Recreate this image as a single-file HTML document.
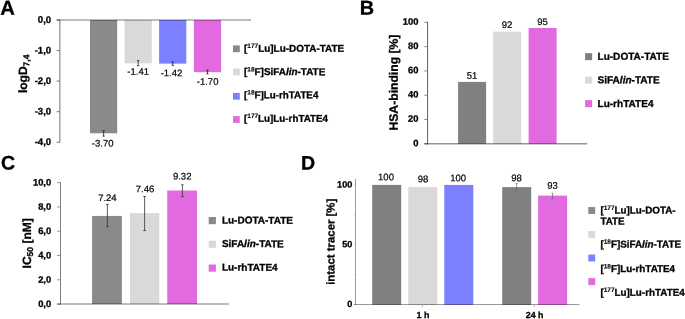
<!DOCTYPE html>
<html lang="en">
<head>
<meta charset="utf-8">
<title>Figure</title>
<style>
html,body{margin:0;padding:0;background:#fff;}
body{width:685px;height:319px;overflow:hidden;}
svg{display:block;text-rendering:geometricPrecision;font-family:"Liberation Sans",Arial,Helvetica,sans-serif;}
</style>
</head>
<body>
<svg width="685" height="319" viewBox="0 0 685 319">
<rect x="0" y="0" width="685" height="319" fill="#ffffff"/>
<text x="0.30" y="14.70" font-size="20.3" font-weight="700" transform="rotate(0.1 0.30 14.70)" fill="#000" stroke="#000" stroke-width="0.3">A</text>
<rect x="90.00" y="20.00" width="27.20" height="113.29" fill="#8a8a8a"/>
<rect x="124.60" y="20.00" width="27.20" height="43.33" fill="#d9d9d9"/>
<rect x="159.10" y="20.00" width="27.20" height="43.63" fill="#7c80ff"/>
<rect x="193.90" y="20.00" width="27.20" height="52.19" fill="#e26ae1"/>
<line x1="56.65" y1="20.00" x2="59.85" y2="20.00" stroke="#808080" stroke-width="1.1"/>
<text x="51.20" y="22.90" font-size="9.6" font-weight="700" text-anchor="end" transform="rotate(0.1 51.20 22.90)" fill="#000" stroke="#000" stroke-width="0.3">0,0</text>
<line x1="56.65" y1="50.55" x2="59.85" y2="50.55" stroke="#808080" stroke-width="1.1"/>
<text x="51.20" y="53.45" font-size="9.6" font-weight="700" text-anchor="end" transform="rotate(0.1 51.20 53.45)" fill="#000" stroke="#000" stroke-width="0.3">-1,0</text>
<line x1="56.65" y1="81.10" x2="59.85" y2="81.10" stroke="#808080" stroke-width="1.1"/>
<text x="51.20" y="84.00" font-size="9.6" font-weight="700" text-anchor="end" transform="rotate(0.1 51.20 84.00)" fill="#000" stroke="#000" stroke-width="0.3">-2,0</text>
<line x1="56.65" y1="111.65" x2="59.85" y2="111.65" stroke="#808080" stroke-width="1.1"/>
<text x="51.20" y="114.55" font-size="9.6" font-weight="700" text-anchor="end" transform="rotate(0.1 51.20 114.55)" fill="#000" stroke="#000" stroke-width="0.3">-3,0</text>
<line x1="56.65" y1="142.20" x2="59.85" y2="142.20" stroke="#808080" stroke-width="1.1"/>
<text x="51.20" y="145.10" font-size="9.6" font-weight="700" text-anchor="end" transform="rotate(0.1 51.20 145.10)" fill="#000" stroke="#000" stroke-width="0.3">-4,0</text>
<line x1="59.85" y1="19.50" x2="59.85" y2="142.70" stroke="#808080" stroke-width="1.1"/>
<line x1="56.65" y1="20.00" x2="251.00" y2="20.00" stroke="#000" stroke-opacity="0.35" stroke-width="1.5"/>
<line x1="103.60" y1="130.70" x2="103.60" y2="136.10" stroke="#222" stroke-width="0.8"/>
<line x1="102.40" y1="130.70" x2="104.80" y2="130.70" stroke="#222" stroke-width="0.8"/>
<line x1="102.40" y1="136.10" x2="104.80" y2="136.10" stroke="#222" stroke-width="0.8"/>
<text x="102.70" y="146.60" font-size="9.5" text-anchor="middle" transform="rotate(0.1 102.70 146.60)" fill="#000" stroke="#000" stroke-width="0.2">-3.70</text>
<line x1="138.20" y1="60.60" x2="138.20" y2="65.70" stroke="#222" stroke-width="0.8"/>
<line x1="137.00" y1="60.60" x2="139.40" y2="60.60" stroke="#222" stroke-width="0.8"/>
<line x1="137.00" y1="65.70" x2="139.40" y2="65.70" stroke="#222" stroke-width="0.8"/>
<text x="138.20" y="74.80" font-size="9.5" text-anchor="middle" transform="rotate(0.1 138.20 74.80)" fill="#000" stroke="#000" stroke-width="0.2">-1.41</text>
<line x1="172.70" y1="61.90" x2="172.70" y2="65.30" stroke="#222" stroke-width="0.8"/>
<line x1="171.50" y1="61.90" x2="173.90" y2="61.90" stroke="#222" stroke-width="0.8"/>
<line x1="171.50" y1="65.30" x2="173.90" y2="65.30" stroke="#222" stroke-width="0.8"/>
<text x="171.50" y="76.30" font-size="9.5" text-anchor="middle" transform="rotate(0.1 171.50 76.30)" fill="#000" stroke="#000" stroke-width="0.2">-1.42</text>
<line x1="207.50" y1="70.10" x2="207.50" y2="73.90" stroke="#222" stroke-width="0.8"/>
<line x1="206.30" y1="70.10" x2="208.70" y2="70.10" stroke="#222" stroke-width="0.8"/>
<line x1="206.30" y1="73.90" x2="208.70" y2="73.90" stroke="#222" stroke-width="0.8"/>
<text x="207.60" y="84.80" font-size="9.5" text-anchor="middle" transform="rotate(0.1 207.60 84.80)" fill="#000" stroke="#000" stroke-width="0.2">-1.70</text>
<text x="27.00" y="93.10" font-size="12" font-weight="700" transform="rotate(-89.9 27.00 93.10)" fill="#000" stroke="#000" stroke-width="0.3">logD<tspan font-size="8.5" dy="2.2" stroke-width="0.3">7,4</tspan></text>
<rect x="233.00" y="45.40" width="6.80" height="6.80" fill="#8a8a8a"/>
<text x="244.00" y="51.65" font-size="9.93" font-weight="700" transform="rotate(0.1 244.00 51.65)" fill="#000" stroke="#000" stroke-width="0.3">[<tspan font-size="6.5" dy="-3.6" stroke-width="0.12">177</tspan><tspan dy="3.6">Lu]Lu-DOTA-TATE</tspan></text>
<rect x="233.00" y="68.50" width="6.80" height="6.80" fill="#d9d9d9"/>
<text x="244.00" y="75.00" font-size="9.93" font-weight="700" transform="rotate(0.1 244.00 75.00)" fill="#000" stroke="#000" stroke-width="0.3">[<tspan font-size="6.5" dy="-3.6" stroke-width="0.12">18</tspan><tspan dy="3.6">F]SiFA<tspan font-style="italic">lin</tspan>-TATE</tspan></text>
<rect x="233.00" y="92.90" width="6.80" height="6.80" fill="#7c80ff"/>
<text x="244.00" y="98.15" font-size="9.8" font-weight="700" transform="rotate(0.1 244.00 98.15)" fill="#000" stroke="#000" stroke-width="0.3">[<tspan font-size="6.5" dy="-3.6" stroke-width="0.12">18</tspan><tspan dy="3.6">F]Lu-rhTATE4</tspan></text>
<rect x="233.00" y="116.10" width="6.80" height="6.80" fill="#e26ae1"/>
<text x="244.00" y="121.65" font-size="9.8" font-weight="700" transform="rotate(0.1 244.00 121.65)" fill="#000" stroke="#000" stroke-width="0.3">[<tspan font-size="6.5" dy="-3.6" stroke-width="0.12">177</tspan><tspan dy="3.6">Lu]Lu-rhTATE4</tspan></text>
<text x="359.70" y="14.40" font-size="19.9" font-weight="700" transform="rotate(0.1 359.70 14.40)" fill="#000" stroke="#000" stroke-width="0.3">B</text>
<rect x="458.10" y="81.90" width="28.00" height="61.85" fill="#808080"/>
<text x="472.10" y="78.70" font-size="9.5" text-anchor="middle" transform="rotate(0.1 472.10 78.70)" fill="#000" stroke="#000" stroke-width="0.2">51</text>
<rect x="493.20" y="31.60" width="28.00" height="112.15" fill="#d9d9d9"/>
<text x="507.10" y="28.10" font-size="9.5" text-anchor="middle" transform="rotate(0.1 507.10 28.10)" fill="#000" stroke="#000" stroke-width="0.2">92</text>
<rect x="528.60" y="27.95" width="28.00" height="115.80" fill="#e26ae1"/>
<text x="542.50" y="25.10" font-size="9.5" text-anchor="middle" transform="rotate(0.1 542.50 25.10)" fill="#000" stroke="#000" stroke-width="0.2">95</text>
<line x1="424.35" y1="143.75" x2="427.55" y2="143.75" stroke="#909090" stroke-width="1.1"/>
<text x="418.50" y="146.15" font-size="9.4" font-weight="700" text-anchor="end" transform="rotate(0.1 418.50 146.15)" fill="#000" stroke="#000" stroke-width="0.3">0</text>
<line x1="424.35" y1="119.46" x2="427.55" y2="119.46" stroke="#909090" stroke-width="1.1"/>
<text x="418.50" y="121.86" font-size="9.4" font-weight="700" text-anchor="end" transform="rotate(0.1 418.50 121.86)" fill="#000" stroke="#000" stroke-width="0.3">20</text>
<line x1="424.35" y1="95.17" x2="427.55" y2="95.17" stroke="#909090" stroke-width="1.1"/>
<text x="418.50" y="97.57" font-size="9.4" font-weight="700" text-anchor="end" transform="rotate(0.1 418.50 97.57)" fill="#000" stroke="#000" stroke-width="0.3">40</text>
<line x1="424.35" y1="70.88" x2="427.55" y2="70.88" stroke="#909090" stroke-width="1.1"/>
<text x="418.50" y="73.28" font-size="9.4" font-weight="700" text-anchor="end" transform="rotate(0.1 418.50 73.28)" fill="#000" stroke="#000" stroke-width="0.3">60</text>
<line x1="424.35" y1="46.59" x2="427.55" y2="46.59" stroke="#909090" stroke-width="1.1"/>
<text x="418.50" y="48.99" font-size="9.4" font-weight="700" text-anchor="end" transform="rotate(0.1 418.50 48.99)" fill="#000" stroke="#000" stroke-width="0.3">80</text>
<line x1="424.35" y1="22.30" x2="427.55" y2="22.30" stroke="#909090" stroke-width="1.1"/>
<text x="418.50" y="24.70" font-size="9.4" font-weight="700" text-anchor="end" transform="rotate(0.1 418.50 24.70)" fill="#000" stroke="#000" stroke-width="0.3">100</text>
<line x1="427.55" y1="21.80" x2="427.55" y2="144.25" stroke="#707070" stroke-width="1.1"/>
<line x1="424.35" y1="143.75" x2="587.20" y2="143.75" stroke="#000" stroke-opacity="0.42" stroke-width="1.3"/>
<text x="397.70" y="130.50" font-size="12.17" font-weight="700" transform="rotate(-89.9 397.70 130.50)" fill="#000" stroke="#000" stroke-width="0.3">HSA-binding [%]</text>
<rect x="585.10" y="53.13" width="7.05" height="7.05" fill="#808080"/>
<text x="597.50" y="59.75" font-size="10.05" font-weight="700" transform="rotate(0.1 597.50 59.75)" fill="#000" stroke="#000" stroke-width="0.3">Lu-DOTA-TATE</text>
<rect x="585.10" y="76.63" width="7.05" height="7.05" fill="#d9d9d9"/>
<text x="597.50" y="83.25" font-size="10.05" font-weight="700" transform="rotate(0.1 597.50 83.25)" fill="#000" stroke="#000" stroke-width="0.3">SiFA<tspan font-style="italic">lin</tspan>-TATE</text>
<rect x="585.10" y="100.13" width="7.05" height="7.05" fill="#e26ae1"/>
<text x="597.50" y="106.90" font-size="10.05" font-weight="700" transform="rotate(0.1 597.50 106.90)" fill="#000" stroke="#000" stroke-width="0.3">Lu-rhTATE4</text>
<text x="0.90" y="169.60" font-size="19.6" font-weight="700" transform="rotate(0.1 0.90 169.60)" fill="#000" stroke="#000" stroke-width="0.3">C</text>
<rect x="92.05" y="215.95" width="29.85" height="88.05" fill="#8a8a8a"/>
<rect x="130.00" y="213.10" width="29.30" height="90.90" fill="#d9d9d9"/>
<rect x="167.25" y="190.50" width="29.75" height="113.50" fill="#e26ae1"/>
<line x1="57.00" y1="304.10" x2="60.50" y2="304.10" stroke="#888888" stroke-width="0.9"/>
<text x="51.20" y="307.00" font-size="9.4" font-weight="700" text-anchor="end" transform="rotate(0.1 51.20 307.00)" fill="#000" stroke="#000" stroke-width="0.3">0,0</text>
<line x1="57.00" y1="279.80" x2="60.50" y2="279.80" stroke="#888888" stroke-width="0.9"/>
<text x="51.20" y="282.70" font-size="9.4" font-weight="700" text-anchor="end" transform="rotate(0.1 51.20 282.70)" fill="#000" stroke="#000" stroke-width="0.3">2,0</text>
<line x1="57.00" y1="255.50" x2="60.50" y2="255.50" stroke="#888888" stroke-width="0.9"/>
<text x="51.20" y="258.40" font-size="9.4" font-weight="700" text-anchor="end" transform="rotate(0.1 51.20 258.40)" fill="#000" stroke="#000" stroke-width="0.3">4,0</text>
<line x1="57.00" y1="231.20" x2="60.50" y2="231.20" stroke="#888888" stroke-width="0.9"/>
<text x="51.20" y="234.10" font-size="9.4" font-weight="700" text-anchor="end" transform="rotate(0.1 51.20 234.10)" fill="#000" stroke="#000" stroke-width="0.3">6,0</text>
<line x1="57.00" y1="206.90" x2="60.50" y2="206.90" stroke="#888888" stroke-width="0.9"/>
<text x="51.20" y="209.80" font-size="9.4" font-weight="700" text-anchor="end" transform="rotate(0.1 51.20 209.80)" fill="#000" stroke="#000" stroke-width="0.3">8,0</text>
<line x1="57.00" y1="182.60" x2="60.50" y2="182.60" stroke="#888888" stroke-width="0.9"/>
<text x="51.20" y="185.50" font-size="9.4" font-weight="700" text-anchor="end" transform="rotate(0.1 51.20 185.50)" fill="#000" stroke="#000" stroke-width="0.3">10,0</text>
<line x1="60.50" y1="182.10" x2="60.50" y2="304.60" stroke="#808080" stroke-width="1.0"/>
<line x1="57.30" y1="304.10" x2="228.90" y2="304.10" stroke="#000" stroke-opacity="0.35" stroke-width="1.5"/>
<line x1="107.40" y1="204.40" x2="107.40" y2="226.50" stroke="#333" stroke-width="0.8"/>
<line x1="106.10" y1="204.40" x2="108.70" y2="204.40" stroke="#333" stroke-width="0.8"/>
<line x1="106.10" y1="226.50" x2="108.70" y2="226.50" stroke="#333" stroke-width="0.8"/>
<text x="107.40" y="201.00" font-size="9.5" text-anchor="middle" transform="rotate(0.1 107.40 201.00)" fill="#000" stroke="#000" stroke-width="0.2">7.24</text>
<line x1="144.60" y1="196.50" x2="144.60" y2="230.60" stroke="#333" stroke-width="0.8"/>
<line x1="143.30" y1="196.50" x2="145.90" y2="196.50" stroke="#333" stroke-width="0.8"/>
<line x1="143.30" y1="230.60" x2="145.90" y2="230.60" stroke="#333" stroke-width="0.8"/>
<text x="145.00" y="192.30" font-size="9.5" text-anchor="middle" transform="rotate(0.1 145.00 192.30)" fill="#000" stroke="#000" stroke-width="0.2">7.46</text>
<line x1="182.40" y1="184.80" x2="182.40" y2="196.60" stroke="#333" stroke-width="0.8"/>
<line x1="181.10" y1="184.80" x2="183.70" y2="184.80" stroke="#333" stroke-width="0.8"/>
<line x1="181.10" y1="196.60" x2="183.70" y2="196.60" stroke="#333" stroke-width="0.8"/>
<text x="182.20" y="179.50" font-size="9.5" text-anchor="middle" transform="rotate(0.1 182.20 179.50)" fill="#000" stroke="#000" stroke-width="0.2">9.32</text>
<text x="30.90" y="268.40" font-size="12" font-weight="700" transform="rotate(-89.9 30.90 268.40)" fill="#000" stroke="#000" stroke-width="0.3">IC<tspan font-size="8.5" dy="2.2" stroke-width="0.3">50</tspan><tspan dy="-2.2"> [nM]</tspan></text>
<rect x="208.70" y="217.00" width="7.20" height="7.20" fill="#8a8a8a"/>
<text x="221.90" y="223.55" font-size="10.0" font-weight="700" transform="rotate(0.1 221.90 223.55)" fill="#000" stroke="#000" stroke-width="0.3">Lu-DOTA-TATE</text>
<rect x="208.70" y="240.70" width="7.20" height="7.20" fill="#d9d9d9"/>
<text x="221.90" y="247.05" font-size="10.0" font-weight="700" transform="rotate(0.1 221.90 247.05)" fill="#000" stroke="#000" stroke-width="0.3">SiFA<tspan font-style="italic">lin</tspan>-TATE</text>
<rect x="208.70" y="264.50" width="7.20" height="7.20" fill="#e26ae1"/>
<text x="221.90" y="270.60" font-size="10.0" font-weight="700" transform="rotate(0.1 221.90 270.60)" fill="#000" stroke="#000" stroke-width="0.3">Lu-rhTATE4</text>
<text x="300.90" y="169.60" font-size="19.5" font-weight="700" transform="rotate(0.1 300.90 169.60)" fill="#000" stroke="#000" stroke-width="0.3">D</text>
<rect x="372.20" y="184.90" width="29.00" height="119.95" fill="#808080"/>
<rect x="408.30" y="187.10" width="29.00" height="117.75" fill="#d9d9d9"/>
<rect x="444.30" y="184.90" width="29.00" height="119.95" fill="#7c80ff"/>
<rect x="502.20" y="187.10" width="29.00" height="117.75" fill="#808080"/>
<rect x="538.10" y="195.60" width="29.00" height="109.25" fill="#e26ae1"/>
<line x1="354.10" y1="304.40" x2="355.50" y2="304.40" stroke="#b4b4b4" stroke-width="0.8"/>
<line x1="354.10" y1="274.56" x2="355.50" y2="274.56" stroke="#b4b4b4" stroke-width="0.8"/>
<line x1="354.10" y1="244.73" x2="355.50" y2="244.73" stroke="#b4b4b4" stroke-width="0.8"/>
<line x1="354.10" y1="214.89" x2="355.50" y2="214.89" stroke="#b4b4b4" stroke-width="0.8"/>
<line x1="354.10" y1="185.06" x2="355.50" y2="185.06" stroke="#b4b4b4" stroke-width="0.8"/>
<text x="352.30" y="306.90" font-size="9.1" font-weight="700" text-anchor="end" transform="rotate(0.1 352.30 306.90)" fill="#000" stroke="#000" stroke-width="0.3">0</text>
<text x="352.30" y="247.23" font-size="9.1" font-weight="700" text-anchor="end" transform="rotate(0.1 352.30 247.23)" fill="#000" stroke="#000" stroke-width="0.3">50</text>
<text x="352.30" y="187.56" font-size="9.1" font-weight="700" text-anchor="end" transform="rotate(0.1 352.30 187.56)" fill="#000" stroke="#000" stroke-width="0.3">100</text>
<line x1="355.50" y1="178.80" x2="355.50" y2="304.90" stroke="#9c9c9c" stroke-width="1.0"/>
<line x1="354.20" y1="304.50" x2="579.50" y2="304.50" stroke="#000" stroke-opacity="0.4" stroke-width="1.0"/>
<line x1="422.40" y1="304.40" x2="422.40" y2="306.80" stroke="#a0a0a0" stroke-width="0.9"/>
<line x1="534.20" y1="304.40" x2="534.20" y2="306.80" stroke="#a0a0a0" stroke-width="0.9"/>
<line x1="516.60" y1="183.50" x2="516.60" y2="191.90" stroke="#6e6e6e" stroke-width="0.7"/>
<line x1="515.60" y1="183.50" x2="517.60" y2="183.50" stroke="#6e6e6e" stroke-width="0.7"/>
<line x1="515.60" y1="191.90" x2="517.60" y2="191.90" stroke="#6e6e6e" stroke-width="0.7"/>
<line x1="552.50" y1="193.20" x2="552.50" y2="198.60" stroke="#6e6e6e" stroke-width="0.7"/>
<line x1="551.50" y1="193.20" x2="553.50" y2="193.20" stroke="#6e6e6e" stroke-width="0.7"/>
<line x1="551.50" y1="198.60" x2="553.50" y2="198.60" stroke="#6e6e6e" stroke-width="0.7"/>
<text x="386.00" y="180.30" font-size="9.5" text-anchor="middle" transform="rotate(0.1 386.00 180.30)" fill="#000" stroke="#000" stroke-width="0.2">100</text>
<text x="423.00" y="182.30" font-size="9.5" text-anchor="middle" transform="rotate(0.1 423.00 182.30)" fill="#000" stroke="#000" stroke-width="0.2">98</text>
<text x="458.10" y="181.30" font-size="9.5" text-anchor="middle" transform="rotate(0.1 458.10 181.30)" fill="#000" stroke="#000" stroke-width="0.2">100</text>
<text x="516.50" y="181.30" font-size="9.5" text-anchor="middle" transform="rotate(0.1 516.50 181.30)" fill="#000" stroke="#000" stroke-width="0.2">98</text>
<text x="552.60" y="188.80" font-size="9.5" text-anchor="middle" transform="rotate(0.1 552.60 188.80)" fill="#000" stroke="#000" stroke-width="0.2">93</text>
<text x="422.90" y="317.90" font-size="8.9" font-weight="700" text-anchor="middle" transform="rotate(0.1 422.90 317.90)" fill="#000" stroke="#000" stroke-width="0.3">1 h</text>
<text x="534.60" y="317.90" font-size="8.9" font-weight="700" text-anchor="middle" transform="rotate(0.1 534.60 317.90)" fill="#000" stroke="#000" stroke-width="0.3">24 h</text>
<text x="334.50" y="284.80" font-size="11.4" font-weight="700" transform="rotate(-89.9 334.50 284.80)" fill="#000" stroke="#000" stroke-width="0.3">intact tracer [%]</text>
<rect x="588.30" y="207.05" width="6.90" height="6.90" fill="#8a8a8a"/>
<rect x="588.30" y="231.05" width="6.90" height="6.90" fill="#d9d9d9"/>
<rect x="588.30" y="254.55" width="6.90" height="6.90" fill="#7c80ff"/>
<rect x="588.30" y="278.15" width="6.90" height="6.90" fill="#e26ae1"/>
<text x="600.40" y="213.50" font-size="9.85" font-weight="700" transform="rotate(0.1 600.40 213.50)" fill="#000" stroke="#000" stroke-width="0.3">[<tspan font-size="6.5" dy="-3.6" stroke-width="0.12">177</tspan><tspan dy="3.6">Lu]Lu-DOTA-</tspan></text>
<text x="600.40" y="224.40" font-size="9.85" font-weight="700" transform="rotate(0.1 600.40 224.40)" fill="#000" stroke="#000" stroke-width="0.3">TATE</text>
<text x="600.40" y="247.40" font-size="9.85" font-weight="700" transform="rotate(0.1 600.40 247.40)" fill="#000" stroke="#000" stroke-width="0.3">[<tspan font-size="6.5" dy="-3.6" stroke-width="0.12">18</tspan><tspan dy="3.6">F]SiFA<tspan font-style="italic">lin</tspan>-TATE</tspan></text>
<text x="600.40" y="272.00" font-size="9.85" font-weight="700" transform="rotate(0.1 600.40 272.00)" fill="#000" stroke="#000" stroke-width="0.3">[<tspan font-size="6.5" dy="-3.6" stroke-width="0.12">18</tspan><tspan dy="3.6">F]Lu-rhTATE4</tspan></text>
<text x="600.40" y="295.65" font-size="9.85" font-weight="700" transform="rotate(0.1 600.40 295.65)" fill="#000" stroke="#000" stroke-width="0.3">[<tspan font-size="6.5" dy="-3.6" stroke-width="0.12">177</tspan><tspan dy="3.6">Lu]Lu-rhTATE4</tspan></text>
</svg>
</body>
</html>
